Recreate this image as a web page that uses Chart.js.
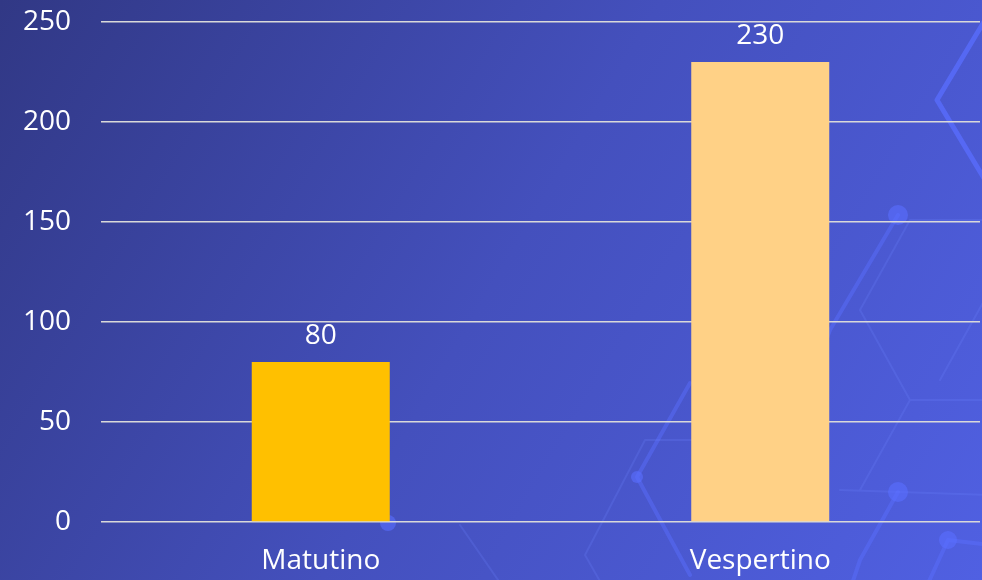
<!DOCTYPE html>
<html>
<head>
<meta charset="utf-8">
<script src="https://cdn.jsdelivr.net/npm/chart.js@4"></script>
<style>
  html, body { margin: 0; padding: 0; }
  body { width: 982px; height: 580px; overflow: hidden; }
  #wrap { width: 982px; height: 580px; position: relative; }
</style>
</head>
<body>
<div id="wrap"><canvas id="chart"></canvas></div>
<script>
const categories = ['Matutino', 'Vespertino'];
const values = [80, 230];
const barColors = ['#FFC000', '#FFD186'];
const yMax = 250;
const yStep = 50;

// background gradient + faint network lines
const backgroundPlugin = {
  id: 'bg',
  beforeDraw(chart) {
    const { ctx, width, height } = chart;
    ctx.save();
    const g = ctx.createLinearGradient(0, 0, width, height);
    g.addColorStop(0, '#313885');
    g.addColorStop(0.5, '#4450bd');
    g.addColorStop(1, '#5060e2');
    ctx.fillStyle = g;
    ctx.fillRect(0, 0, width, height);

    ctx.lineCap = 'round';
    ctx.lineJoin = 'round';
    // bright lines
    ctx.strokeStyle = 'rgba(90,110,255,0.75)';
    ctx.lineWidth = 5;
    ctx.beginPath();
    ctx.moveTo(985, 20); ctx.lineTo(937, 100); ctx.lineTo(985, 180);
    ctx.stroke();
    ctx.strokeStyle = 'rgba(90,110,255,0.45)';
    ctx.lineWidth = 4;
    ctx.beginPath();
    ctx.moveTo(898, 215); ctx.lineTo(830, 330); ctx.lineTo(800, 410);
    ctx.moveTo(690, 383); ctx.lineTo(637, 477); ctx.lineTo(690, 575);
    ctx.moveTo(898, 492); ctx.lineTo(860, 560); ctx.lineTo(850, 590);
    ctx.moveTo(948, 540); ctx.lineTo(925, 590);
    ctx.moveTo(948, 540); ctx.lineTo(990, 545);
    ctx.stroke();
    // faint hex outlines
    ctx.strokeStyle = 'rgba(110,130,255,0.22)';
    ctx.lineWidth = 2;
    ctx.beginPath();
    ctx.moveTo(990, 220); ctx.lineTo(910, 220); ctx.lineTo(860, 310);
    ctx.lineTo(910, 400); ctx.lineTo(990, 400);
    ctx.moveTo(910, 400); ctx.lineTo(860, 490);
    ctx.moveTo(990, 290); ctx.lineTo(940, 380);
    ctx.moveTo(645, 440); ctx.lineTo(700, 440);
    ctx.moveTo(645, 440); ctx.lineTo(585, 555); ctx.lineTo(605, 590);
    ctx.moveTo(505, 590); ctx.lineTo(460, 525);
    ctx.moveTo(840, 490); ctx.lineTo(990, 495);
    ctx.stroke();
    // nodes
    ctx.fillStyle = 'rgba(90,110,255,0.6)';
    [[898, 215, 10], [898, 492, 10], [637, 477, 6], [388, 523, 8], [948, 540, 9]].forEach(([x, y, r]) => {
      ctx.beginPath(); ctx.arc(x, y, r, 0, Math.PI * 2); ctx.fill();
    });
    ctx.restore();
  }
};

const valueLabelPlugin = {
  id: 'valueLabel',
  afterDatasetsDraw(chart) {
    const { ctx, data } = chart;
    ctx.save();
    ctx.font = '28px "Open Sans"';
    ctx.fillStyle = '#ffffff';
    ctx.textAlign = 'center';
    ctx.textBaseline = 'bottom';
    chart.getDatasetMeta(0).data.forEach((bar, j) => {
      ctx.fillText(data.datasets[0].data[j], bar.x, bar.y - 12);
    });
    ctx.restore();
  }
};

new Chart(document.getElementById('chart'), {
  type: 'bar',
  data: {
    labels: categories,
    datasets: [{
      data: values,
      backgroundColor: barColors,
      borderWidth: 0,
      categoryPercentage: 1,
      barPercentage: 0.314
    }]
  },
  options: {
    responsive: true,
    maintainAspectRatio: false,
    animation: false,
    layout: { padding: { top: 22, right: 2, left: 0, bottom: 0 } },
    plugins: {
      legend: { display: false },
      tooltip: { enabled: false }
    },
    scales: {
      x: {
        grid: { display: false, drawTicks: false },
        border: { display: false },
        ticks: {
          color: '#ffffff',
          font: { family: 'Open Sans', size: 28 },
          padding: 22
        },
        afterFit(scale) { scale.height = 58; }
      },
      y: {
        min: 0,
        max: yMax,
        ticks: {
          stepSize: yStep,
          color: '#ffffff',
          font: { family: 'Open Sans', size: 28 },
          padding: 30
        },
        grid: { color: '#d9d9d9', lineWidth: 1.5, drawTicks: false },
        border: { display: false },
        afterFit(scale) {
          scale.width = 101;
          scale.paddingTop = 0;
          scale.paddingBottom = 0;
        }
      }
    }
  },
  plugins: [backgroundPlugin, valueLabelPlugin]
});
</script>
</body>
</html>
